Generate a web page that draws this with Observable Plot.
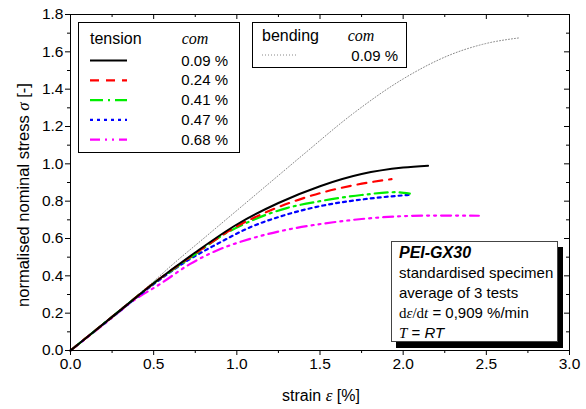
<!DOCTYPE html>
<html><head><meta charset="utf-8">
<script src="https://cdn.jsdelivr.net/npm/d3@7"></script>
<script src="https://cdn.jsdelivr.net/npm/@observablehq/plot@0.6"></script>
<style>
html,body{margin:0;padding:0;background:#fff;}
#chart{position:relative;width:586px;height:409px;}
</style></head>
<body><div id="chart"></div>
<script>
// ---- data ----
const majorX = [0, 0.5, 1, 1.5, 2, 2.5, 3];
const minorX = [0.25, 0.75, 1.25, 1.75, 2.25, 2.75];
const majorY = [0, 0.2, 0.4, 0.6, 0.8, 1.0, 1.2, 1.4, 1.6, 1.8];
const minorY = [0.1, 0.3, 0.5, 0.7, 0.9, 1.1, 1.3, 1.5, 1.7];

const t009Strain = [0, 0.25, 0.5, 0.75, 1.0, 1.25, 1.5, 1.75, 2.0, 2.15];
const t009Stress = [0, 0.18, 0.36, 0.525, 0.675, 0.79, 0.88, 0.945, 0.98, 0.99];
const t024Strain = [0, 0.25, 0.5, 0.75, 1.0, 1.2, 1.45, 1.7, 1.93];
const t024Stress = [0, 0.18, 0.36, 0.52, 0.665, 0.75, 0.83, 0.885, 0.918];
const t041Strain = [0, 0.25, 0.5, 0.75, 0.9, 1.1, 1.3, 1.5, 1.75, 1.95, 2.04];
const t041Stress = [0, 0.18, 0.36, 0.515, 0.61, 0.70, 0.763, 0.80, 0.833, 0.848, 0.84];
const t047Strain = [0, 0.25, 0.5, 0.7, 0.88, 1.08, 1.28, 1.52, 1.78, 2.04];
const t047Stress = [0, 0.178, 0.355, 0.48, 0.57, 0.66, 0.723, 0.777, 0.812, 0.834];
const t068Strain = [0, 0.2, 0.38, 0.54, 0.72, 0.88, 1.08, 1.28, 1.58, 1.88, 2.18, 2.455];
const t068Stress = [0, 0.14, 0.268, 0.357, 0.464, 0.536, 0.598, 0.643, 0.687, 0.714, 0.723, 0.722];
const b009Strain = [0, 0.25, 0.5, 0.6, 0.8, 1.0, 1.2, 1.4, 1.7, 2.0, 2.3, 2.5, 2.7];
const b009Stress = [0, 0.185, 0.37, 0.45, 0.6, 0.75, 0.9, 1.05, 1.27, 1.455, 1.59, 1.645, 1.675];

const tensionLabels = ["0.09 %", "0.24 %", "0.41 %", "0.47 %", "0.68 %"];
const bendingLabels = ["0.09 %"];
const infoLines = ["PEI-GX30", "standardised specimen", "average of 3 tests", "dε/dt = 0,909 %/min", "T = RT"];

// ---- styles ----
const series = [
  {name: "t009", sx: t009Strain, sy: t009Stress, stroke: "#000000", width: 2, dash: null},
  {name: "t024", sx: t024Strain, sy: t024Stress, stroke: "#ff0000", width: 2.2, dash: "9,7"},
  {name: "t041", sx: t041Strain, sy: t041Stress, stroke: "#00ee00", width: 2.2, dash: "13,5,2,5"},
  {name: "t047", sx: t047Strain, sy: t047Stress, stroke: "#0000ff", width: 2.2, dash: "3,4"},
  {name: "t068", sx: t068Strain, sy: t068Stress, stroke: "#ff00ff", width: 2.2, dash: "10,5,2,5,2,5"},
  {name: "b009", sx: b009Strain, sy: b009Stress, stroke: "#888888", width: 1, dash: "1,2"}
];
const table = s => s.sx.map((x, i) => ({strain: x, stress: s.sy[i]}));

const lineMarks = series.slice().reverse().map(s => Plot.line(table(s), {
  x: "strain", y: "stress", stroke: s.stroke, strokeWidth: s.width,
  strokeDasharray: s.dash, curve: "monotone-x"
}));

const fmt = d3.format(".1f");
const chart = Plot.plot({
  width: 586, height: 409,
  marginLeft: 70, marginRight: 17, marginTop: 14, marginBottom: 59,
  style: {fontFamily: "'Liberation Sans', Arial, sans-serif", fontSize: "15.5px", color: "#000", background: "#fff", overflow: "visible"},
  x: {domain: [0, 3]},
  y: {domain: [0, 1.8]},
  marks: [
    ...lineMarks,
    Plot.frame({stroke: "#000", strokeWidth: 1}),
    Plot.axisX({ticks: majorX, tickSize: 5, tickPadding: 2, tickFormat: fmt, label: null, stroke: "#000", fill: "#000"}),
    Plot.axisX({ticks: minorX, tickSize: 3, tickFormat: () => "", label: null, stroke: "#000"}),
    Plot.axisX({ticks: majorX, anchor: "bottom", frameAnchor: "top", tickSize: 5, tickFormat: () => "", label: null, stroke: "#000"}),
    Plot.axisX({ticks: minorX, anchor: "bottom", frameAnchor: "top", tickSize: 3, tickFormat: () => "", label: null, stroke: "#000"}),
    Plot.axisY({ticks: majorY, tickSize: 5, tickPadding: 2, tickFormat: fmt, label: null, stroke: "#000", fill: "#000"}),
    Plot.axisY({ticks: minorY, tickSize: 3, tickFormat: () => "", label: null, stroke: "#000"}),
    Plot.axisY({ticks: majorY, anchor: "left", frameAnchor: "right", tickSize: 5, tickFormat: () => "", label: null, stroke: "#000"}),
    Plot.axisY({ticks: minorY, anchor: "left", frameAnchor: "right", tickSize: 3, tickFormat: () => "", label: null, stroke: "#000"})
  ]
});
document.getElementById("chart").appendChild(chart);

// ---- overlays: axis titles, legends, info box ----
const svg = d3.select(chart);
const SANS = "'Liberation Sans', Arial, sans-serif";
const SERIF = "'Liberation Serif', 'Times New Roman', serif";
const g = svg.append("g").attr("font-family", SANS).attr("fill", "#000").attr("text-anchor", "start");

// axis titles
const yt = g.append("text").attr("transform", "translate(29,195) rotate(-90)")
  .attr("text-anchor", "middle").attr("font-size", 16.5);
yt.append("tspan").text("normalised nominal stress ");
yt.append("tspan").attr("font-family", SERIF).attr("font-style", "italic").attr("font-size", 17).text("σ");
yt.append("tspan").text(" [-]");
const xt = g.append("text").attr("x", 321).attr("y", 401).attr("text-anchor", "middle").attr("font-size", 16);
xt.append("tspan").text("strain ");
xt.append("tspan").attr("font-family", SERIF).attr("font-style", "italic").attr("font-size", 17).text("ε");
xt.append("tspan").text(" [%]");

// tension legend
g.append("rect").attr("x", 78.5).attr("y", 22.5).attr("width", 161).attr("height", 130)
  .attr("fill", "#fff").attr("stroke", "#000");
g.append("text").attr("x", 90).attr("y", 44).attr("font-size", 16).text("tension");
g.append("text").attr("x", 195).attr("y", 44).attr("text-anchor", "middle")
  .attr("font-family", SERIF).attr("font-style", "italic").attr("font-size", 16).text("com");
tensionLabels.forEach((lab, i) => {
  const cy = 59.5 + i * 19.8;
  const s = series[i];
  g.append("line").attr("x1", 90).attr("x2", 127).attr("y1", cy + 1).attr("y2", cy + 1)
    .attr("stroke", s.stroke).attr("stroke-width", s.width).attr("stroke-dasharray", s.dash);
  g.append("text").attr("x", 228).attr("y", cy + 6).attr("text-anchor", "end").attr("font-size", 15).text(lab);
});

// bending legend
g.append("rect").attr("x", 252.5).attr("y", 22.5).attr("width", 154).attr("height", 45)
  .attr("fill", "#fff").attr("stroke", "#000");
g.append("text").attr("x", 262).attr("y", 41).attr("font-size", 16).text("bending");
g.append("text").attr("x", 361).attr("y", 41).attr("text-anchor", "middle")
  .attr("font-family", SERIF).attr("font-style", "italic").attr("font-size", 16).text("com");
g.append("line").attr("x1", 262).attr("x2", 296).attr("y1", 55).attr("y2", 55)
  .attr("stroke", series[5].stroke).attr("stroke-width", 1).attr("stroke-dasharray", "1,2");
g.append("text").attr("x", 398).attr("y", 61).attr("text-anchor", "end").attr("font-size", 15).text(bendingLabels[0]);

// info box
g.append("rect").attr("x", 396).attr("y", 247).attr("width", 167).attr("height", 101).attr("fill", "#000");
g.append("rect").attr("x", 391.5).attr("y", 241.5).attr("width", 166).attr("height", 100)
  .attr("fill", "#fff").attr("stroke", "#444");
const tx = 399;
g.append("text").attr("x", tx).attr("y", 258).attr("font-size", 16).attr("font-weight", "bold").attr("font-style", "italic").text(infoLines[0]);
g.append("text").attr("x", tx).attr("y", 278).attr("font-size", 15).text(infoLines[1]);
g.append("text").attr("x", tx).attr("y", 298).attr("font-size", 15).text(infoLines[2]);
const l4 = g.append("text").attr("x", tx).attr("y", 318).attr("font-size", 15);
l4.append("tspan").attr("font-family", SERIF).text("d");
l4.append("tspan").attr("font-family", SERIF).attr("font-style", "italic").text("ε");
l4.append("tspan").attr("font-family", SERIF).text("/d");
l4.append("tspan").attr("font-family", SERIF).attr("font-style", "italic").text("t");
l4.append("tspan").text(" = 0,909 %/min");
const l5 = g.append("text").attr("x", tx).attr("y", 338).attr("font-size", 15);
l5.append("tspan").attr("font-family", SERIF).attr("font-style", "italic").text("T");
l5.append("tspan").text(" = ");
l5.append("tspan").attr("font-style", "italic").text("RT");
</script></body></html>
